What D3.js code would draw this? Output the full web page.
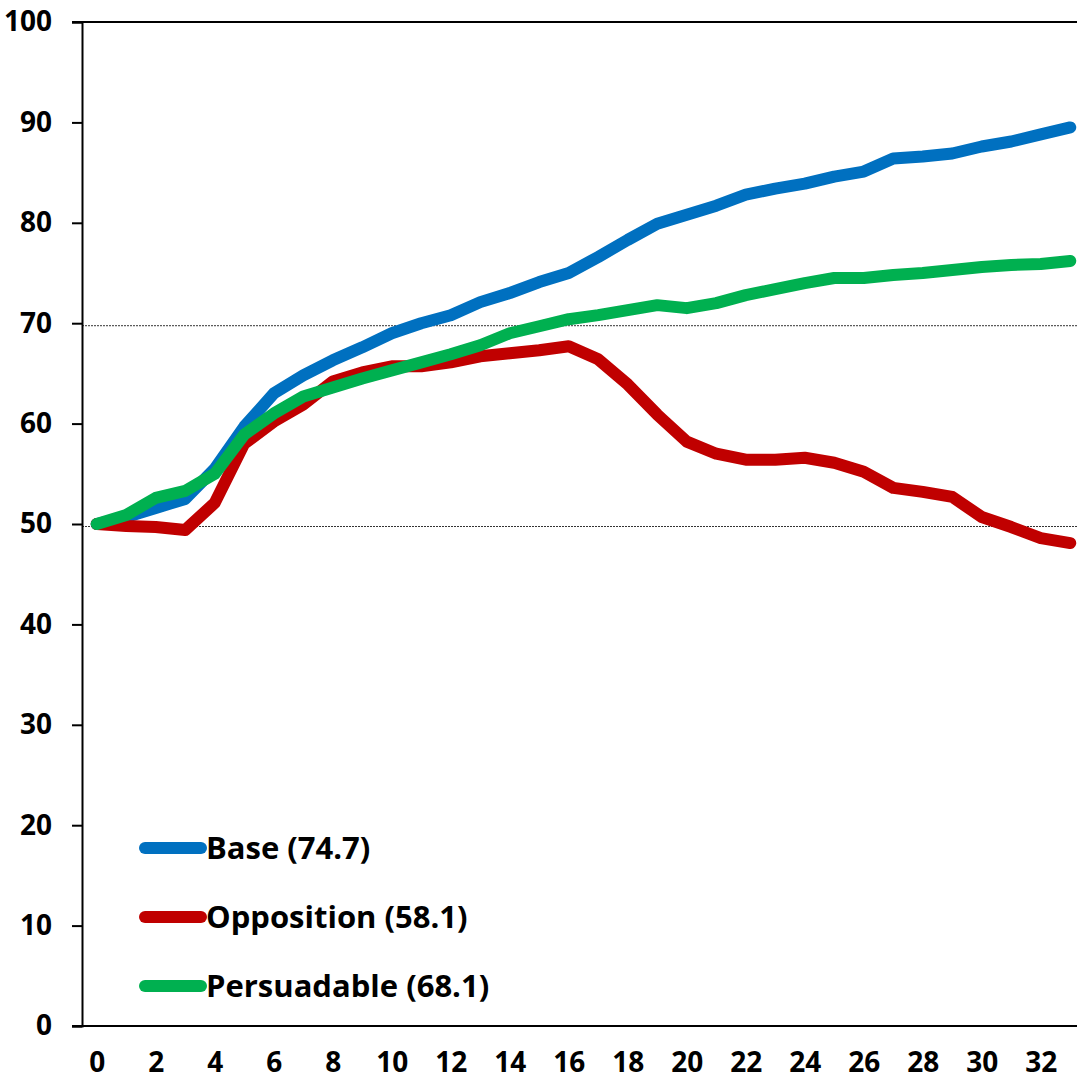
<!DOCTYPE html>
<html>
<head>
<meta charset="utf-8">
<script src="https://cdn.jsdelivr.net/npm/d3@7"></script>
<style>
	html, body { margin: 0; padding: 0; background: #fff; }
	#chart { width: 1077px; height: 1081px; }
	text { font-family: "Open Sans", sans-serif; font-weight: bold; fill: #000; }
</style>
</head>
<body>
<div id="chart"></div>
<script>
'use strict';

var steps = d3.range(0, 34);
var xTicks = [0, 2, 4, 6, 8, 10, 12, 14, 16, 18, 20, 22, 24, 26, 28, 30, 32];
var yTicks = [0, 10, 20, 30, 40, 50, 60, 70, 80, 90, 100];
var refLines = [69.75, 49.75];

var baseValues = [50.0, 50.7, 51.6, 52.5, 55.5, 59.7, 63.0, 64.8, 66.3, 67.6, 69.0,
	70.0, 70.8, 72.1, 73.0, 74.1, 75.0, 76.6, 78.3, 79.9, 80.8, 81.7,
	82.8, 83.4, 83.9, 84.6, 85.1, 86.4, 86.6, 86.9, 87.6, 88.1, 88.8, 89.5];
var oppositionValues = [50.0, 49.8, 49.7, 49.4, 52.1, 58.0, 60.2, 61.9, 64.2, 65.1, 65.7,
	65.7, 66.1, 66.7, 67.0, 67.3, 67.7, 66.4, 63.9, 60.9, 58.2, 57.0,
	56.4, 56.4, 56.6, 56.1, 55.2, 53.6, 53.2, 52.7, 50.7, 49.7, 48.6, 48.1];
var persuadableValues = [50.0, 50.9, 52.6, 53.3, 55.0, 58.9, 61.0, 62.7, 63.6, 64.5, 65.3,
	66.1, 66.9, 67.8, 69.0, 69.7, 70.4, 70.8, 71.3, 71.8, 71.5, 72.0,
	72.8, 73.4, 74.0, 74.5, 74.5, 74.8, 75.0, 75.3, 75.6, 75.8, 75.9, 76.2];

var seriesNames = ['Base (74.7)', 'Opposition (58.1)', 'Persuadable (68.1)'];
var seriesColors = ['#0070C0', '#C00000', '#00B050'];

var series = [baseValues, oppositionValues, persuadableValues].map(function(values, i){
	return { name: seriesNames[i], color: seriesColors[i], values: values };
});

var width = 1077;
var height = 1081;
var plot = { left: 82, right: 1085, top: 22, bottom: 1026 };

var svg = d3.select('#chart').append('svg')
	.attr('width', width)
	.attr('height', height);

var x = d3.scaleLinear()
	.domain([-0.5, 33.5])
	.range([plot.left, plot.right]);

var y = d3.scaleLinear()
	.domain([0, 100])
	.range([plot.bottom, plot.top]);

// dotted reference lines
svg.append('g')
	.attr('class', 'ref')
	.selectAll('line')
	.data(refLines)
	.enter()
	.append('line')
		.attr('x1', plot.left)
		.attr('x2', width)
		.attr('y1', function(d){ return y(d); })
		.attr('y2', function(d){ return y(d); })
		.attr('stroke', '#333')
		.attr('stroke-width', 1)
		.attr('stroke-dasharray', '2,1');

// y axis
var yAxis = svg.append('g')
	.attr('transform', 'translate(' + plot.left + ',0)')
	.call(d3.axisLeft(y).tickValues(yTicks).tickSize(10).tickPadding(20));

yAxis.select('.domain').attr('stroke', '#000').attr('stroke-width', 2);
yAxis.selectAll('.tick line').attr('stroke', '#000').attr('stroke-width', 2);
yAxis.selectAll('.tick text')
	.attr('font-size', 28)
	.attr('font-family', '"Open Sans", sans-serif')
	.attr('font-weight', 'bold')
	.attr('fill', '#000');

// top border
svg.append('line')
	.attr('x1', plot.left - 10)
	.attr('x2', width)
	.attr('y1', y(100))
	.attr('y2', y(100))
	.attr('stroke', '#000')
	.attr('stroke-width', 2);

// x axis
var xAxis = svg.append('g')
	.attr('transform', 'translate(0,' + plot.bottom + ')')
	.call(d3.axisBottom(x).tickValues(xTicks).tickSize(0).tickPadding(26));

xAxis.select('.domain').remove();
xAxis.selectAll('.tick text')
	.attr('font-size', 28)
	.attr('font-family', '"Open Sans", sans-serif')
	.attr('font-weight', 'bold')
	.attr('fill', '#000');

svg.append('line')
	.attr('x1', plot.left - 10)
	.attr('x2', width)
	.attr('y1', plot.bottom)
	.attr('y2', plot.bottom)
	.attr('stroke', '#000')
	.attr('stroke-width', 2);

// series lines
var line = d3.line()
	.x(function(d, i){ return x(steps[i]); })
	.y(function(d){ return y(d); });

svg.append('g')
	.attr('class', 'lines')
	.selectAll('path')
	.data(series)
	.enter()
	.append('path')
		.attr('d', function(d){ return line(d.values); })
		.attr('fill', 'none')
		.attr('stroke', function(d){ return d.color; })
		.attr('stroke-width', 12)
		.attr('stroke-linecap', 'round')
		.attr('stroke-linejoin', 'round');

// legend
var legend = svg.append('g')
	.attr('class', 'legend')
	.attr('transform', 'translate(145,848)');

var item = legend.selectAll('g')
	.data(series)
	.enter()
	.append('g')
		.attr('transform', function(d, i){ return 'translate(0,' + (i * 69) + ')'; });

item.append('line')
	.attr('x1', 0)
	.attr('x2', 56)
	.attr('stroke', function(d){ return d.color; })
	.attr('stroke-width', 12)
	.attr('stroke-linecap', 'round');

item.append('text')
	.attr('x', 61)
	.attr('dy', '0.36em')
	.attr('font-size', 31)
	.text(function(d){ return d.name; });
</script>
</body>
</html>
